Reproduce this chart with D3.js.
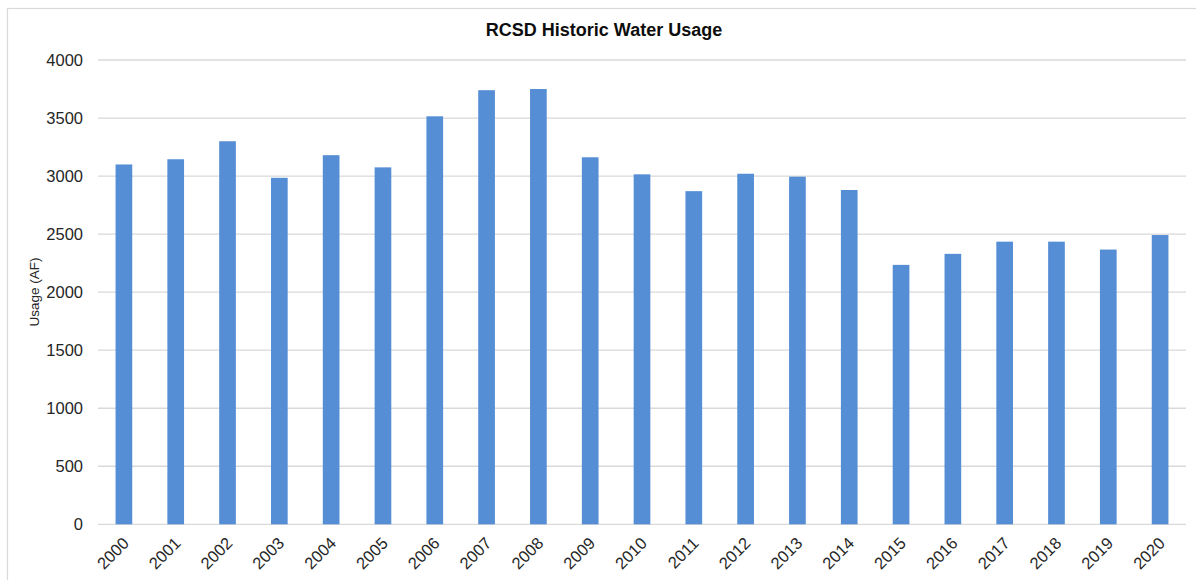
<!DOCTYPE html>
<html>
<head>
<meta charset="utf-8">
<script src="https://cdn.jsdelivr.net/npm/d3@7"></script>
<style>
  html, body { margin: 0; padding: 0; background: #fff; }
  svg { display: block; font-family: "Liberation Sans", Arial, sans-serif; }
</style>
</head>
<body>
<svg id="chart" width="1196" height="580"></svg>
<script>
// Annual water usage, acre-feet
const years = ["2000","2001","2002","2003","2004","2005","2006","2007","2008","2009","2010",
               "2011","2012","2013","2014","2015","2016","2017","2018","2019","2020"];
const usage = [3100, 3145, 3300, 2985, 3180, 3075, 3515, 3740, 3750, 3162, 3015,
               2870, 3020, 2995, 2880, 2235, 2330, 2435, 2435, 2367, 2492];
const yTicks = [0, 500, 1000, 1500, 2000, 2500, 3000, 3500, 4000];

const svg = d3.select("#chart");
const W = 1196, H = 580;
const margin = { left: 98, top: 60 };
const plotRight = 1186;
const plotBottom = 524.3;

// chart frame
svg.append("rect")
  .attr("x", 7.5).attr("y", 8.5)
  .attr("width", W + 20).attr("height", H + 20)
  .attr("fill", "#fff")
  .attr("stroke", "#d9d9d9").attr("stroke-width", 1.2);

const x = d3.scaleBand()
  .domain(years)
  .range([margin.left, plotRight])
  .paddingInner(0.678)
  .paddingOuter(0.339);

const y = d3.scaleLinear()
  .domain([0, 4000])
  .range([plotBottom, margin.top]);

// gridlines
svg.append("g")
  .selectAll("line")
  .data(yTicks)
  .join("line")
  .attr("x1", margin.left).attr("x2", plotRight)
  .attr("y1", d => y(d)).attr("y2", d => y(d))
  .attr("stroke", "#d9d9d9").attr("stroke-width", 1.3);

// y tick labels
svg.append("g")
  .selectAll("text")
  .data(yTicks)
  .join("text")
  .attr("x", 83)
  .attr("y", d => y(d))
  .attr("dy", "0.36em")
  .attr("text-anchor", "end")
  .attr("font-size", 16.5)
  .attr("fill", "#262626")
  .text(d => d);

// bars
svg.append("g")
  .selectAll("rect")
  .data(years.map((yr, i) => ({ yr, v: usage[i] })))
  .join("rect")
  .attr("x", d => x(d.yr))
  .attr("width", x.bandwidth())
  .attr("y", d => y(d.v))
  .attr("height", d => y(0) - y(d.v))
  .attr("fill", "#558ed5");

// x labels, rotated
svg.append("g")
  .selectAll("text")
  .data(years)
  .join("text")
  .attr("transform", d => `translate(${x(d) + x.bandwidth() / 2 + 6},${plotBottom + 20}) rotate(-45)`)
  .attr("text-anchor", "end")
  .attr("font-size", 16.5)
  .attr("fill", "#262626")
  .text(d => d);

// y axis title
svg.append("text")
  .attr("transform", "translate(39,292) rotate(-90)")
  .attr("text-anchor", "middle")
  .attr("font-size", 13.5)
  .attr("fill", "#262626")
  .text("Usage (AF)");

// chart title
svg.append("text")
  .attr("x", 604).attr("y", 36)
  .attr("text-anchor", "middle")
  .attr("font-size", 18)
  .attr("font-weight", "bold")
  .attr("fill", "#0d0d0d")
  .text("RCSD Historic Water Usage");
</script>
</body>
</html>
